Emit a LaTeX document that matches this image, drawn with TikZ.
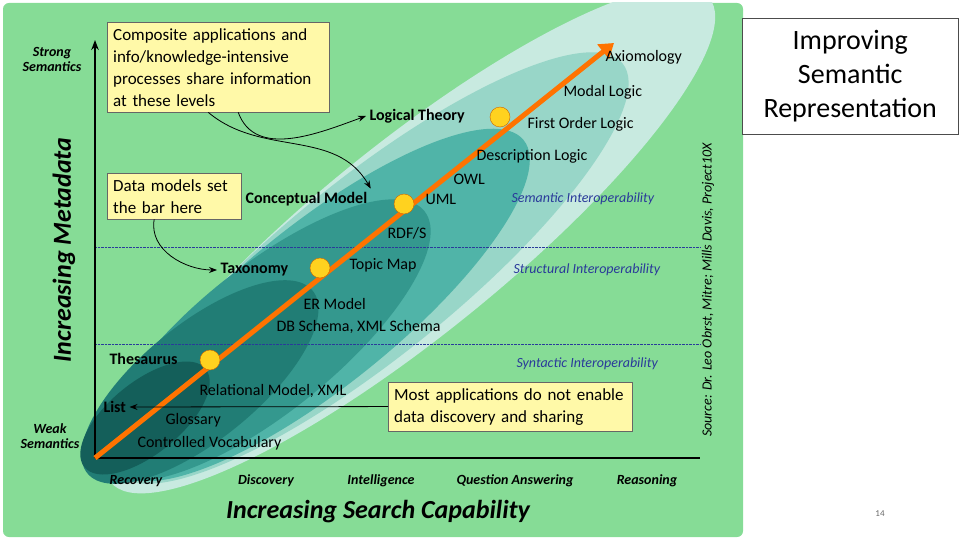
\documentclass[tikz,border=0pt]{standalone}
\usepackage{fontspec}
\setmainfont{Carlito}
\usepackage{tikz}
\usetikzlibrary{arrows.meta}
\definecolor{bggreen}{HTML}{86DC96}
\definecolor{noteyellow}{HTML}{FFF9A8}
\definecolor{dotyellow}{HTML}{FFD21F}
\definecolor{linkblue}{HTML}{2A3A9A}
\tikzset{
  note/.style={draw=black!60, fill=noteyellow, align=left, font=\fontsize{17}{22}\selectfont, inner sep=6pt},
  lvl/.style={font=\fontsize{16}{19}\selectfont\bfseries},
  lab/.style={font=\fontsize{16}{19}\selectfont},
  interop/.style={font=\fontsize{14}{17}\selectfont\itshape, text=linkblue},
  dot/.style={circle, fill=dotyellow, draw=orange!80!black, minimum size=20pt, inner sep=0pt},
  axcap/.style={font=\fontsize{14}{15}\selectfont\bfseries\itshape},
}
\begin{document}
\begin{tikzpicture}[x=1pt,y=-1pt]
\useasboundingbox (0,0) rectangle (960,540);
\fill[bggreen, rounded corners=6pt] (3,3) rectangle (743,537);
% nested ellipses
\begin{scope}
\clip (3,3) rectangle (743,537);
\fill[rotate around={39:(410,240)}, fill={rgb,255:red,200;green,234;blue,224}] (410,240) ellipse (385 and 95);
\fill[rotate around={39:(370,268)}, fill={rgb,255:red,152;green,214;blue,200}] (370,268) ellipse (325 and 88);
\fill[rotate around={39:(320,305)}, fill={rgb,255:red,80;green,180;blue,168}] (320,305) ellipse (262 and 80);
\fill[rotate around={39:(265,340)}, fill={rgb,255:red,52;green,152;blue,142}] (265,340) ellipse (205 and 72);
\fill[rotate around={39:(200,382)}, fill={rgb,255:red,33;green,125;blue,117}] (200,382) ellipse (145 and 58);
\fill[rotate around={39:(145,418)}, fill={rgb,255:red,20;green,95;blue,90}] (145,418) ellipse (78 and 36);
\end{scope}
% level lines
\draw[linkblue, densely dotted] (95,247) -- (700,247);
\draw[linkblue, densely dotted] (95,344) -- (700,344);
% axes
\coordinate (origin) at (95,458);
\coordinate (ytop) at (95,40);
\coordinate (xend) at (700,458);
\draw[line width=2.5pt, -{Stealth[length=10pt]}] (origin) -- (ytop);
\draw[line width=2.5pt] (origin) -- (xend);
\coordinate (atop) at (614,43);
\draw[orange!90!red, line width=5pt, -{Triangle[length=14pt,width=18pt]}] (origin) -- (atop);
\node[dot] (d1) at (210,360) {};
\node[dot] (d2) at (320,268) {};
\node[dot] (d3) at (404,204) {};
\node[dot] (d4) at (500,117) {};
% level labels
\node[lab, anchor=west] (axiom) at (602,57) {Axiomology};
\node[lab, anchor=west] (modal) at (560,92) {Modal Logic};
\node[lab, anchor=west] (fol) at (524,124) {First Order Logic};
\node[lvl, anchor=west] (logical) at (366,116) {Logical Theory};
\node[lab, anchor=west] (dl) at (473,156) {Description Logic};
\node[lab, anchor=west] (owl) at (450,179) {OWL};
\node[lab, anchor=west] (uml) at (422,199) {UML};
\node[lvl, anchor=west] (concept) at (242,199) {Conceptual Model};
\node[lab, anchor=west] (rdf) at (384,233) {RDF/S};
\node[lab, anchor=west] (topic) at (346,265) {Topic Map};
\node[lvl, anchor=west] (taxo) at (217,270) {Taxonomy};
\node[lab, anchor=west] (er) at (300,304) {ER Model};
\node[lab, anchor=west] (db) at (273,327) {DB Schema, XML Schema};
\node[lvl, anchor=west] (thes) at (106,359) {Thesaurus};
\node[lab, anchor=west] (rel) at (196,391) {Relational Model, XML};
\node[lvl, anchor=west] (list) at (100,407) {List};
\node[lab, anchor=west] (gloss) at (162,420) {Glossary};
\node[lab, anchor=west] (cv) at (134,443) {Controlled Vocabulary};
% interoperability
\node[interop, anchor=west] (sem) at (508,199) {Semantic Interoperability};
\node[interop, anchor=west] (str) at (510,270) {Structural Interoperability};
\node[interop, anchor=west] (syn) at (513,364) {Syntactic Interoperability};
% axis captions
\node[axcap, align=center] (strong) at (52,59) {Strong\\Semantics};
\node[axcap, align=center] (weak) at (50,436) {Weak\\Semantics};
\node[font=\fontsize{26}{30}\selectfont\bfseries\itshape, rotate=90] (ytitle) at (64,250) {Increasing Metadata};
\node[axcap] (x1) at (136,481) {Recovery};
\node[axcap] (x2) at (266,481) {Discovery};
\node[axcap] (x3) at (381,481) {Intelligence};
\node[axcap] (x4) at (515,481) {Question Answering};
\node[axcap] (x5) at (647,481) {Reasoning};
\node[font=\fontsize{26}{30}\selectfont\bfseries\itshape] (xtitle) at (378,512) {Increasing Search Capability};
\node[font=\fontsize{14}{16}\selectfont\itshape, rotate=90] (source) at (708,290) {Source: Dr. Leo Obrst, Mitre; Mills Davis, Project10X};
% notes
\node[note, anchor=north west, text width=210pt] (n1) at (107,22) {Composite applications and info/knowledge-intensive processes share information at these levels};
\node[note, anchor=north west, text width=122pt] (n2) at (107,173) {Data models set the bar here};
\node[note, anchor=north west, text width=232pt] (n3) at (388,382) {Most applications do not enable data discovery and sharing};
\draw[-{Stealth[length=8pt]}, thick] ([xshift=20pt]n1.south) to[out=-70, in=200] (logical.west);
\draw[-{Stealth[length=8pt]}, thick] ([xshift=-10pt]n1.south) to[out=-40, in=120] (concept.north east);
\draw[-{Stealth[length=8pt]}, thick] ([xshift=-20pt]n2.south) to[out=-100, in=180] (taxo.west);
\draw[-{Stealth[length=8pt]}, thick] (n3.west) -- (list.east);
% right panel
\node[draw=black!70, fill=white, font=\fontsize{28}{34}\selectfont, align=center, minimum width=216pt, minimum height=116pt, anchor=north west] (title) at (742,18) {Improving\\Semantic\\Representation};
\node[font=\small, text=black!60] (page) at (880,514) {14};
\end{tikzpicture}
\end{document}
